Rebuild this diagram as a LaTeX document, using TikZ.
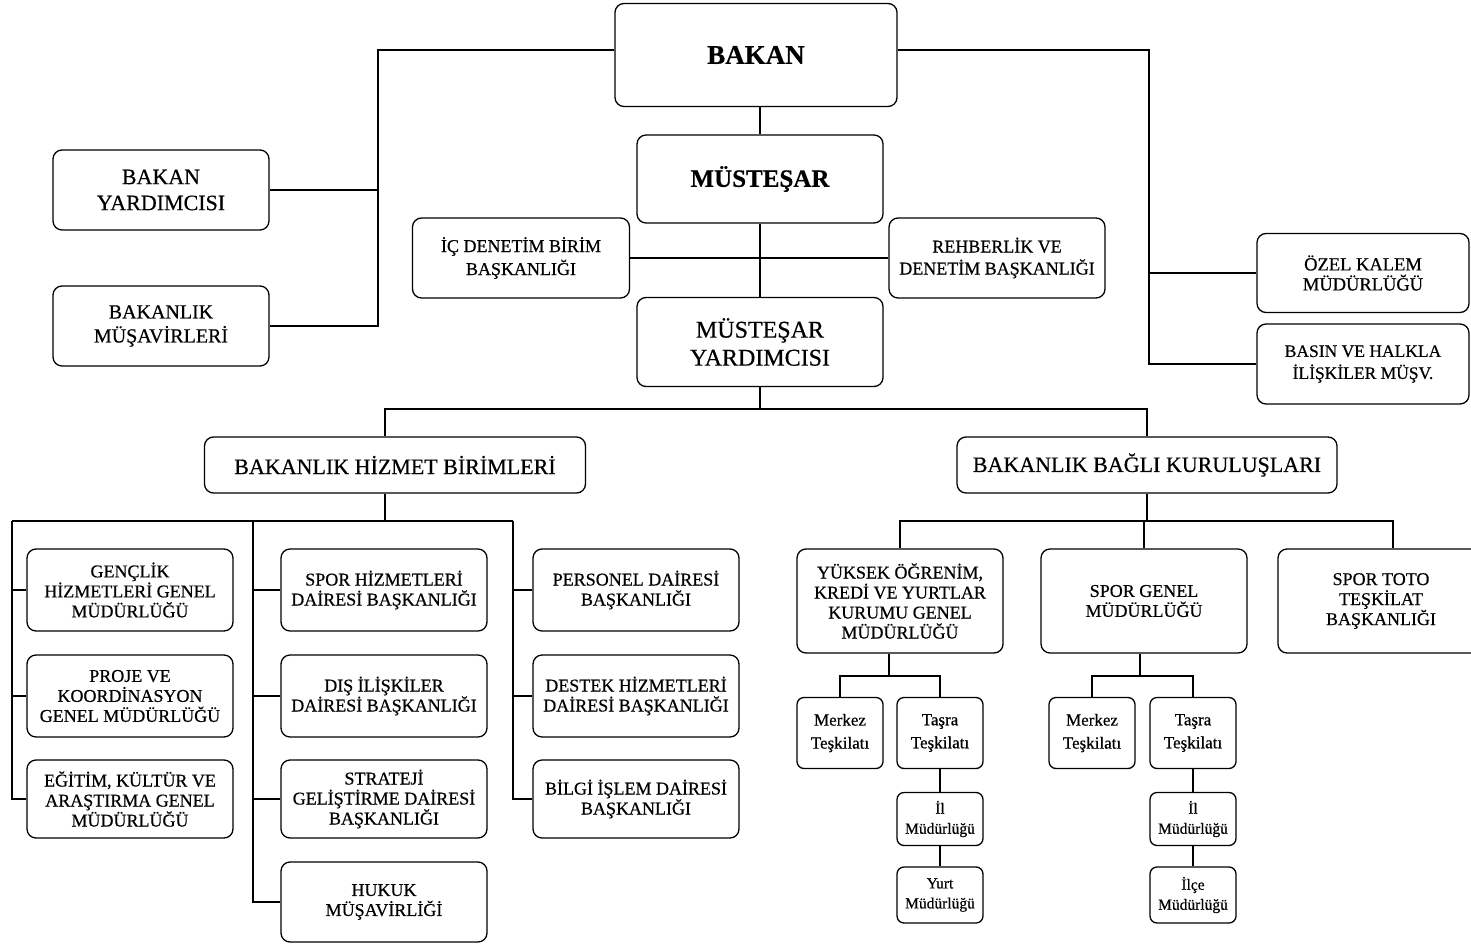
\documentclass[tikz,border=0pt]{standalone}
\usepackage{fontspec}
\setmainfont{Liberation Serif}[FakeBold=0.5]
\usepackage{tikz}
\usetikzlibrary{
  calc,
  positioning,
}
\tikzstyle{unit} = [
  draw,
  rectangle,
  rounded corners=9,
  line width=1.3pt,
  align=center,
  inner sep=0pt,
  font=\fontsize{18}{20}\selectfont,
]
\tikzstyle{small} = [
  unit,
  rounded corners=7,
  minimum width=86,
  font=\fontsize{17}{23}\selectfont,
]
\tikzstyle{tiny} = [
  small,
  font=\fontsize{15.5}{20}\selectfont,
]
\tikzstyle{link} = [
  line width=1.6pt,
]

\begin{document}
\begin{tikzpicture}[x=1pt,y=-1pt]
        \useasboundingbox (0,0) rectangle (1471,944);

        % top level
        \node[unit,minimum width=282,minimum height=103,font=\fontsize{27}{30}\selectfont\bfseries] (bakan) at (756,55) {BAKAN};
        \node[unit,minimum width=246,minimum height=88,font=\fontsize{25}{28}\selectfont\bfseries] (mustesar) at (760,179) {MÜSTEŞAR};
        \node[unit,minimum width=217,minimum height=80,font=\fontsize{18}{23}\selectfont] (icdenetim) at (521,258) {İÇ DENETİM BİRİM\\BAŞKANLIĞI};
        \node[unit,minimum width=216,minimum height=80,font=\fontsize{18}{22}\selectfont] (rehberlik) at (997,258) {REHBERLİK VE\\DENETİM BAŞKANLIĞI};
        \node[unit,minimum width=246,minimum height=89,font=\fontsize{24}{28}\selectfont] (mustyard) at (760,342) {MÜSTEŞAR\\YARDIMCISI};
        \node[unit,minimum width=216,minimum height=80,font=\fontsize{22}{26}\selectfont] (bakanyard) at (161,190) {BAKAN\\YARDIMCISI};
        \node[unit,minimum width=216,minimum height=80,font=\fontsize{20}{24}\selectfont] (musavir) at (161,326) {BAKANLIK\\MÜŞAVİRLERİ};
        \node[unit,minimum width=212,minimum height=79,font=\fontsize{18.5}{20}\selectfont] (ozelkalem) at (1363,273) {ÖZEL KALEM\\MÜDÜRLÜĞÜ};
        \node[unit,minimum width=212,minimum height=80,font=\fontsize{17.5}{22}\selectfont] (basin) at (1363,364) {BASIN VE HALKLA\\İLİŞKİLER MÜŞV.};

        % two branches
        \node[unit,minimum width=381,minimum height=56,font=\fontsize{22}{24}\selectfont] (hizmet) at (395,465) {BAKANLIK HİZMET BİRİMLERİ};
        \node[unit,minimum width=380,minimum height=56,font=\fontsize{22}{24}\selectfont] (bagli) at (1147,465) {BAKANLIK BAĞLI KURULUŞLARI};

        % hizmet birimleri
        \node[unit,minimum width=206,minimum height=82] (genclik) at (130,590) {GENÇLİK\\HİZMETLERİ GENEL\\MÜDÜRLÜĞÜ};
        \node[unit,minimum width=206,minimum height=82] (proje) at (130,696) {PROJE VE\\KOORDİNASYON\\GENEL MÜDÜRLÜĞÜ};
        \node[unit,minimum width=206,minimum height=78] (egitim) at (130,799) {EĞİTİM, KÜLTÜR VE\\ARAŞTIRMA GENEL\\MÜDÜRLÜĞÜ};
        \node[unit,minimum width=206,minimum height=82] (sporhiz) at (384,590) {SPOR HİZMETLERİ\\DAİRESİ BAŞKANLIĞI};
        \node[unit,minimum width=206,minimum height=82] (disiliski) at (384,696) {DIŞ İLİŞKİLER\\DAİRESİ BAŞKANLIĞI};
        \node[unit,minimum width=206,minimum height=78] (strateji) at (384,799) {STRATEJİ\\GELİŞTİRME DAİRESİ\\BAŞKANLIĞI};
        \node[unit,minimum width=206,minimum height=80] (hukuk) at (384,902) {HUKUK\\MÜŞAVİRLİĞİ};
        \node[unit,minimum width=206,minimum height=82] (personel) at (636,590) {PERSONEL DAİRESİ\\BAŞKANLIĞI};
        \node[unit,minimum width=206,minimum height=82] (destek) at (636,696) {DESTEK HİZMETLERİ\\DAİRESİ BAŞKANLIĞI};
        \node[unit,minimum width=206,minimum height=78] (bilgi) at (636,799) {BİLGİ İŞLEM DAİRESİ\\BAŞKANLIĞI};

        % bagli kuruluslar
        \node[unit,minimum width=206,minimum height=104] (yok) at (900,601) {YÜKSEK ÖĞRENİM,\\KREDİ VE YURTLAR\\KURUMU GENEL\\MÜDÜRLÜĞÜ};
        \node[unit,minimum width=206,minimum height=104] (sporgenel) at (1144,601) {SPOR GENEL\\MÜDÜRLÜĞÜ};
        \node[unit,minimum width=206,minimum height=104] (sportoto) at (1381,601) {SPOR TOTO\\TEŞKİLAT\\BAŞKANLIĞI};

        \node[small,minimum height=71] (merkeza) at (840,733) {Merkez\\Teşkilatı};
        \node[small,minimum height=71] (tasraa) at (940,733) {Taşra\\Teşkilatı};
        \node[tiny,minimum height=53] (ila) at (940,819) {İl\\Müdürlüğü};
        \node[tiny,minimum height=56] (yurt) at (940,895) {Yurt\\Müdürlüğü};
        \node[small,minimum height=71] (merkezb) at (1092,733) {Merkez\\Teşkilatı};
        \node[small,minimum height=71] (tasrab) at (1193,733) {Taşra\\Teşkilatı};
        \node[tiny,minimum height=53] (ilb) at (1193,819) {İl\\Müdürlüğü};
        \node[tiny,minimum height=56] (ilce) at (1193,895) {İlçe\\Müdürlüğü};

        % spines
        \coordinate (lsp) at (378,50);
        \coordinate (rsp) at (1149,50);
        \coordinate (midbus) at (760,409);
        \coordinate (hs1) at (12,521);
        \coordinate (hs2) at (253,521);
        \coordinate (hs3) at (513,521);
        \coordinate (bs) at (1147,521);
        \coordinate (yb) at (889,676);
        \coordinate (sb) at (1140,676);

        \draw[link] ([yshift=5]bakan.west) -- (lsp) |- (bakanyard.east);
        \draw[link] (lsp) |- (musavir.east);
        \draw[link] ([yshift=5]bakan.east) -- (rsp) |- (ozelkalem.west);
        \draw[link] (rsp) |- (basin.west);
        \draw[link] (mustesar.north) -- (mustesar.north |- bakan.south);
        \draw[link] (mustesar.south) -- (mustyard.north);
        \draw[link] (icdenetim.east) -- (rehberlik.west);
        \draw[link] (mustyard.south) -- (midbus);
        \draw[link] ([xshift=-10]hizmet.north) |- (midbus) -| (bagli.north);

        \draw[link] ([xshift=-10]hizmet.south) -- ([xshift=-10]hizmet.south |- hs1);
        \draw[link] (hs1) -- (hs3);
        \foreach \n in {genclik,proje,egitim} \draw[link] (hs1) |- (\n.west);
        \foreach \n in {sporhiz,disiliski,strateji,hukuk} \draw[link] (hs2) |- (\n.west);
        \foreach \n in {personel,destek,bilgi} \draw[link] (hs3) |- (\n.west);

        \draw[link] (bagli.south) -- (bs);
        \draw[link] (bs) -| (yok.north);
        \draw[link] (bs) -| (sporgenel.north);
        \draw[link] (bs) -| ([xshift=12]sportoto.north);

        \draw[link] (yok.south -| yb) -- (yb);
        \draw[link] (merkeza.north) |- (yb) -| (tasraa.north);
        \draw[link] (tasraa.south) -- (ila.north);
        \draw[link] (ila.south) -- (yurt.north);
        \draw[link] (sporgenel.south -| sb) -- (sb);
        \draw[link] (merkezb.north) |- (sb) -| (tasrab.north);
        \draw[link] (tasrab.south) -- (ilb.north);
        \draw[link] (ilb.south) -- (ilce.north);
    \end{tikzpicture}
\end{document}
